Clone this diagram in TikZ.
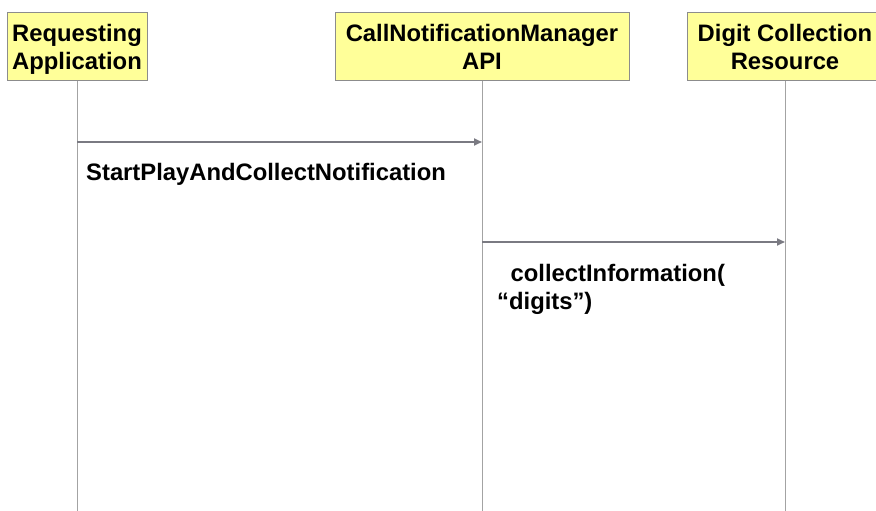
\documentclass[tikz,border=0pt]{standalone}
\usepackage{fontspec}
\setmainfont{Liberation Sans}
\usetikzlibrary{arrows.meta,positioning}

\definecolor{boxfill}{HTML}{FFFF99}
\definecolor{boxline}{HTML}{8C8C8C}
\definecolor{msgline}{HTML}{7A7A82}

\begin{document}
\begin{tikzpicture}[
  x=1pt,y=-1pt,
  >={Triangle[length=8pt,width=7pt]},
  font=\bfseries\fontsize{23.8}{27.5}\selectfont,
  actor/.style={draw=boxline,fill=boxfill,line width=1pt,minimum height=68pt,
    inner sep=0pt,text depth=-4pt,align=center},
  life/.style={draw=boxline!80,line width=1pt},
  msg/.style={draw=msgline,line width=1.8pt,->},
  msglabel/.style={inner sep=0pt,anchor=base west,align=left}
]
\useasboundingbox (0,0) rectangle (876,511);

% -------------------------
% Geometry
% -------------------------
\def\xApp{77}
\def\xApi{482}
\def\xRes{785}
\def\yBox{47}
\def\yMsgOne{142}
\def\yMsgTwo{242}
\def\yEnd{511}

% -------------------------
% Actors
% -------------------------
\node[actor,minimum width=140pt] (app) at (\xApp,\yBox) {Requesting\\Application};
\node[actor,minimum width=294pt] (api) at (\xApi,\yBox) {CallNotificationManager\\API};
\node[actor,minimum width=196pt] (res) at (\xRes,\yBox) {Digit Collection\\Resource};

% -------------------------
% Lifelines
% -------------------------
\coordinate (app-end) at (\xApp,\yEnd);
\coordinate (api-end) at (\xApi,\yEnd);
\coordinate (res-end) at (\xRes,\yEnd);
\draw[life] (app.south) -- (app-end);
\draw[life] (api.south) -- (api-end);
\draw[life] (res.south) -- (res-end);

% -------------------------
% Messages
% -------------------------
\coordinate (app-m1) at (\xApp,\yMsgOne);
\coordinate (api-m1) at (\xApi,\yMsgOne);
\coordinate (api-m2) at (\xApi,\yMsgTwo);
\coordinate (res-m2) at (\xRes,\yMsgTwo);

\draw[msg] (app-m1) -- (api-m1);
\draw[msg] (api-m2) -- (res-m2);

\node[msglabel] (lbl1) at (86,180) {StartPlayAndCollectNotification};
\node[msglabel] (lbl2) at (497,309) {\hspace{13.5pt}collectInformation(\\“digits”)};

\end{tikzpicture}
\end{document}
